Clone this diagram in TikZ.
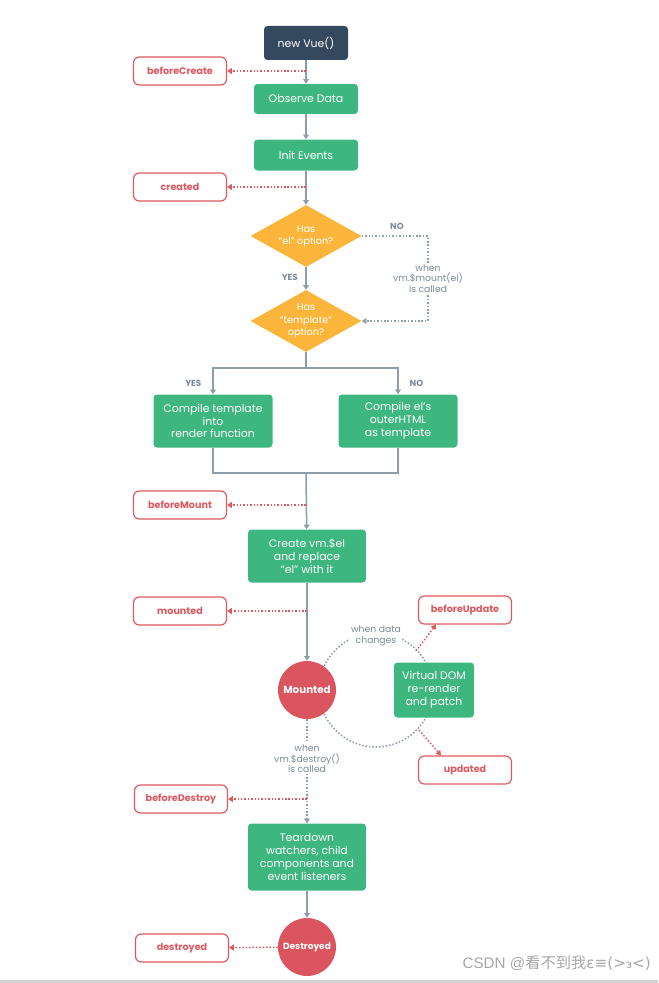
\documentclass[tikz,border=0pt]{standalone}
\usepackage{fontspec}
\setmainfont{Poppins}
\newfontfamily\cjkfont{Noto Sans CJK SC}
\newfontfamily\markfont{Liberation Sans}
\newfontfamily\symbfont{DejaVu Sans}
\usetikzlibrary{shapes.geometric,arrows.meta}

\newcommand{\px}{0.03cm}
\definecolor{vuedark}{HTML}{35495E}
\definecolor{vuegreen}{HTML}{3DB77F}
\definecolor{hookred}{HTML}{E0585F}
\definecolor{circred}{HTML}{DB5560}
\definecolor{diayellow}{HTML}{FCB53B}
\definecolor{linegray}{HTML}{8E9DAA}
\definecolor{textgray}{HTML}{7D8A96}

\tikzset{
  stepbox/.style={fill=vuegreen, text=white, rounded corners=3pt, align=center,
    minimum width=#1*\px, inner sep=2pt, font=\fontsize{9.3}{11}\selectfont},
  stepbox/.default=104,
  hook/.style={draw=hookred, line width=1pt, fill=white, text=hookred, rounded corners=5pt,
    minimum width=93*\px, minimum height=28*\px, font=\fontsize{8.2}{10}\selectfont\bfseries},
  question/.style={diamond, fill=diayellow, minimum width=111*\px, minimum height=62*\px,
    inner sep=0pt, label={[text=white, align=center, font=\fontsize{8.3}{10.4}\selectfont]center:#1}},
  state/.style={circle, fill=circred, text=white, minimum size=58*\px, inner sep=0pt,
    font=\fontsize{8.8}{10}\selectfont\bfseries},
  note/.style={fill=white, text=textgray, align=center, inner sep=1pt,
    font=\fontsize{7.9}{9.2}\selectfont},
  answer/.style={text=textgray, font=\fontsize{7.5}{9}\selectfont\bfseries},
  flow/.style={draw=linegray, line width=1.3pt, -{Triangle[length=4pt,width=5pt]}},
  flowline/.style={draw=linegray, line width=1.3pt},
  wait/.style={draw=linegray, line width=1.3pt, dash pattern=on 1.3pt off 1.6pt},
  callhook/.style={draw=hookred, line width=1.2pt, dash pattern=on 1.3pt off 1.6pt,
    -{Triangle[length=4pt,width=5pt]}},
}

\begin{document}
\begin{tikzpicture}[x=\px, y=-\px]
  \useasboundingbox (0,0) rectangle (658,983);
  \fill[gray!35] (0,980) rectangle (658,983);

  % update loop behind the nodes
  \draw[wait] (376,690) circle[radius=57];

  % creation
  \node[fill=vuedark, text=white, rounded corners=3pt, minimum width=84*\px,
    minimum height=34*\px, font=\fontsize{9.3}{11}\selectfont] (newvue) at (306,43) {new Vue()};
  \node[stepbox, minimum height=30*\px] (observe) at (306,99) {Observe Data};
  \node[stepbox, minimum height=31*\px] (events) at (306,155) {Init Events};
  \node[hook] (beforecreate) at (180,71) {beforeCreate};
  \node[hook] (created) at (180,187) {created};

  % compile
  \node[question={Has\\``el'' option?}] (hasel) at (306,236) {};
  \node[question={Has\\``template''\\option?}] (hastpl) at (306,321) {};
  \node[stepbox=119, minimum height=53*\px] (compiletpl) at (213,421) {Compile template\\into\\render function};
  \node[stepbox=119, minimum height=53*\px] (compileel) at (398,421) {Compile el's\\outerHTML\\as template};
  \coordinate (split) at (306,368);
  \coordinate (join) at (306,473);

  % mounting
  \node[hook] (beforemount) at (180,505) {beforeMount};
  \node[stepbox=118, minimum height=53*\px] (createel) at (307,556) {Create vm.\$el\\and replace\\``el'' with it};
  \node[hook] (mountedhook) at (180,611) {mounted};
  \node[state] (mounted) at (307,690) {Mounted};
  \node[stepbox=80, minimum height=55*\px] (vdom) at (434,690) {Virtual DOM\\re-render\\and patch};
  \node[hook] (beforeupdate) at (465,610) {beforeUpdate};
  \node[hook] (updated) at (465,770) {updated};
  \node[note] (datachange) at (376,636) {when data\\changes};

  % destruction
  \node[hook] (beforedestroy) at (181,799) {beforeDestroy};
  \node[stepbox=118, minimum height=67*\px] (teardown) at (307,857) {Teardown\\watchers, child\\components and\\event listeners};
  \node[state, font=\fontsize{7.7}{9}\selectfont\bfseries] (destroyed) at (307,947) {Destroyed};
  \node[hook] (destroyedhook) at (182,948) {destroyed};

  \draw[flow] (newvue) -- (observe);
  \draw[flow] (observe) -- (events);
  \draw[flow] (events) -- (hasel);
  \draw[flow] (hasel) -- node[answer, left=3pt, pos=0.45] {YES} (hastpl);
  \draw[wait, -{Triangle[length=4pt,width=5pt]}] (hasel.east) -- (428,236)
    -- node[note] (mountcall) {when\\vm.\$mount(el)\\is called} (428,321) -- (hastpl.east);
  \node[answer] at (397,226) {NO};
  \draw[flowline] (hastpl) -- (split);
  \draw[flow] (split) -| node[answer, pos=0.8, left=6pt] {YES} (compiletpl);
  \draw[flow] (split) -| node[answer, pos=0.8, right=6pt] {NO} (compileel);
  \draw[flowline] (compiletpl) |- (join);
  \draw[flowline] (compileel) |- (join);
  \draw[flow] (join) -- (createel);
  \draw[flow] (createel) -- (mounted);
  \draw[wait, -{Triangle[length=4pt,width=5pt]}] (mounted) --
    node[note, pos=0.38] (destroycall) {when\\vm.\$destroy()\\is called} (teardown);
  \draw[flow] (teardown) -- (destroyed);

  % hooks
  \draw[callhook] (306,71) -- (beforecreate);
  \draw[callhook] (306,187) -- (created);
  \draw[callhook] (306,505) -- (beforemount);
  \draw[callhook] (307,611) -- (mountedhook);
  \draw[callhook] (416,651) -- (beforeupdate.south west -| 436,0);
  \draw[callhook] (419,730) -- (updated.north west -| 441,0);
  \draw[callhook] (307,799) -- (beforedestroy);
  \draw[callhook] (destroyed) -- (destroyedhook);

  \node[text=gray!70, anchor=east, font=\fontsize{13}{15}\selectfont\markfont] (watermark) at (655,963)
    {CSDN @{\cjkfont 看不到我}{\symbfont ε≡(>₃<)}};
\end{tikzpicture}
\end{document}
